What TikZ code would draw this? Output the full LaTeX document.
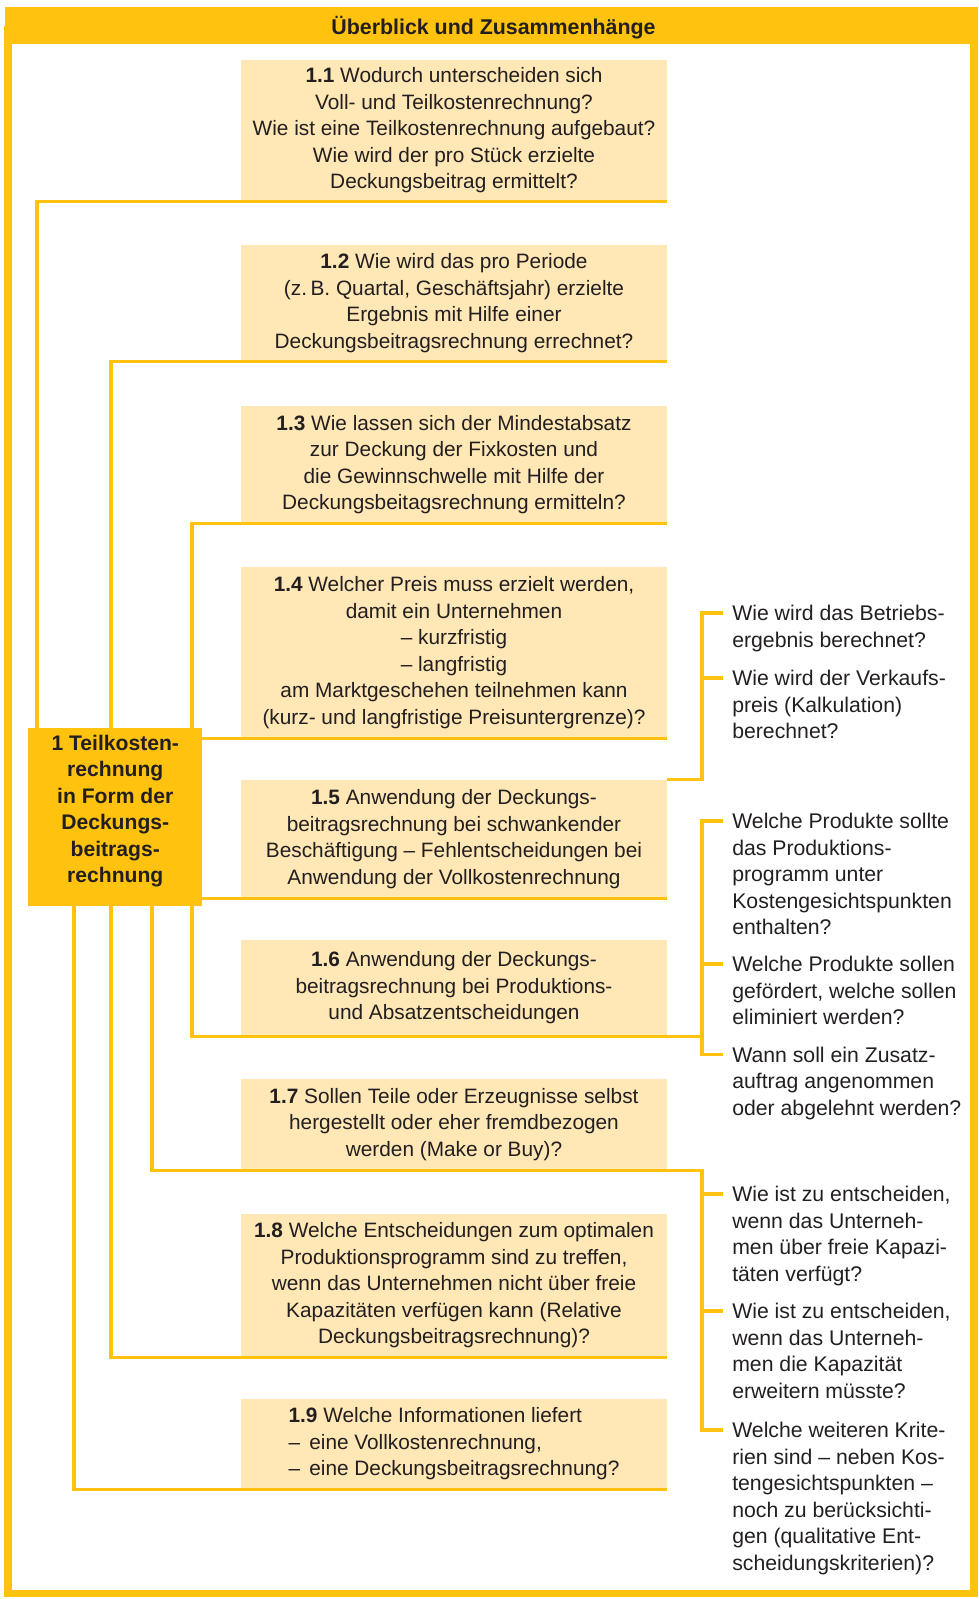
\documentclass[tikz,border=0pt]{standalone}
\usepackage{fontspec}
\setmainfont{Liberation Sans}
\usepackage{tikz}
\usetikzlibrary{calc}

\definecolor{gold}{RGB}{255,194,14}
\definecolor{boxfill}{RGB}{255,231,182}
\definecolor{ink}{RGB}{35,31,32}

\begin{document}
\begin{tikzpicture}[x=0.025cm,y=-0.025cm,
  link/.style={gold,line width=2.3pt},
  qbox/.style={fill=boxfill,minimum width=10.65cm,inner sep=0pt,align=center,text=ink,font=\fontsize{14.8}{18.85}\selectfont},
  side/.style={anchor=north west,inner sep=0pt,align=left,text=ink,font=\fontsize{15.1}{18.85}\selectfont}]
\useasboundingbox (0,0) rectangle (979,1599);
% frame and title bar
\draw[gold,line width=5pt] (8,30) rectangle (974,1593);
\fill[gold] (4.5,7) rectangle (977.5,44);
\node[text=ink,font=\fontsize{15.2}{18}\selectfont\bfseries] (title) at (493.5,28) {Überblick und Zusammenhänge};

% main topic
\node[fill=gold,minimum width=4.3375cm,minimum height=4.45cm,inner sep=0pt,align=center,text=ink,text depth=11.6pt,
  font=\fontsize{15}{18.85}\selectfont\bfseries] (main) at (115.25,817)
  {1 Teilkosten-\\rechnung\\in Form der\\Deckungs-\\beitrags-\\rechnung};

% questions
\node[qbox,minimum height=3.525cm] (b11) at (454,130.5) {\textbf{1.1} Wodurch unterscheiden sich\\Voll- und Teilkostenrechnung?\\Wie ist eine Teilkostenrechnung aufgebaut?\\Wie wird der pro Stück erzielte\\Deckungsbeitrag ermittelt?};
\node[qbox,minimum height=2.9cm] (b12) at (454,303) {\textbf{1.2} Wie wird das pro Periode\\(z.\,B. Quartal, Geschäftsjahr) erzielte\\Ergebnis mit Hilfe einer\\Deckungsbeitragsrechnung errechnet?};
\node[qbox,minimum height=2.925cm] (b13) at (454,464.5) {\textbf{1.3} Wie lassen sich der Mindestabsatz\\zur Deckung der Fixkosten und\\die Gewinnschwelle mit Hilfe der\\Deckungsbeitagsrechnung ermitteln?};
\node[qbox,minimum height=4.275cm] (b14) at (454,652.5) {\textbf{1.4} Welcher Preis muss erzielt werden,\\damit ein Unternehmen\\– kurzfristig\\– langfristig\\am Marktgeschehen teilnehmen kann\\(kurz- und langfristige Preisuntergrenze)?};
\node[qbox,minimum height=2.95cm] (b15) at (454,839) {\textbf{1.5} Anwendung der Deckungs-\\beitragsrechnung bei schwankender\\Beschäftigung – Fehlentscheidungen bei\\Anwendung der Vollkostenrechnung};
\node[qbox,minimum height=2.4cm] (b16) at (454,988) {\textbf{1.6} Anwendung der Deckungs-\\beitragsrechnung bei Produktions-\\und Absatzentscheidungen};
\node[qbox,minimum height=2.275cm] (b17) at (454,1124.5) {\textbf{1.7} Sollen Teile oder Erzeugnisse selbst\\hergestellt oder eher fremdbezogen\\werden (Make or Buy)?};
\node[qbox,minimum height=3.575cm] (b18) at (454,1285.5) {\textbf{1.8} Welche Entscheidungen zum optimalen\\Produktionsprogramm sind zu treffen,\\wenn das Unternehmen nicht über freie\\Kapazitäten verfügen kann (Relative\\Deckungsbeitragsrechnung)?};
\node[qbox,minimum height=2.25cm,align=left] (b19) at (454,1444) {\textbf{1.9} Welche Informationen liefert\\–\hspace{6.5pt}eine Vollkostenrechnung,\\–\hspace{6.5pt}eine Deckungsbeitragsrechnung?};

% side questions
\node[side] (ra1) at (732,605) {Wie wird das Betriebs-\\ergebnis berechnet?};
\node[side] (ra2) at (732,670) {Wie wird der Verkaufs-\\preis (Kalkulation)\\berechnet?};
\node[side] (rb1) at (732,813) {Welche Produkte sollte\\das Produktions-\\programm unter\\Kostengesichtspunkten\\enthalten?};
\node[side] (rb2) at (732,956) {Welche Produkte sollen\\gefördert, welche sollen\\eliminiert werden?};
\node[side] (rb3) at (732,1046.5) {Wann soll ein Zusatz-\\auftrag angenommen\\oder abgelehnt werden?};
\node[side] (rc1) at (732,1186) {Wie ist zu entscheiden,\\wenn das Unterneh-\\men über freie Kapazi-\\täten verfügt?};
\node[side] (rc2) at (732,1303) {Wie ist zu entscheiden,\\wenn das Unterneh-\\men die Kapazität\\erweitern müsste?};
\node[side] (rc3) at (732,1422) {Welche weiteren Krite-\\rien sind – neben Kos-\\tengesichtspunkten –\\noch zu berücksichti-\\gen (qualitative Ent-\\scheidungskriterien)?};

% links from the main topic
\draw[link] (37,0 |- main.north) |- (b11.south east);
\draw[link] (111,0 |- main.north) |- (b12.south east);
\draw[link] (192,0 |- main.north) |- (b13.south east);
\draw[link] (main.east |- b14.south) -- (b14.south east);
\draw[link] (main.east |- b15.south) -- (b15.south east);
\draw[link] (192,0 |- main.south) |- (b16.south east) -- ++(35,0);
\draw[link] (152,0 |- main.south) |- (b17.south east) -| ($(rc3.north west)+(-30,8)$) -- ($(rc3.north west)+(-9,8)$);
\draw[link] (111,0 |- main.south) |- (b18.south east);
\draw[link] (74,0 |- main.south) |- (b19.south east);

% brackets
\draw[link] (b15.north east) -| ($(ra1.north west)+(-30,8)$) -- ($(ra1.north west)+(-9,8)$);
\draw[link] ($(ra2.north west)+(-30,8)$) -- ($(ra2.north west)+(-9,8)$);
\draw[link] ($(rb1.north west)+(-9,8)$) -- ($(rb1.north west)+(-30,8)$) -- ($(rb3.north west)+(-30,8)$) -- ($(rb3.north west)+(-9,8)$);
\draw[link] ($(rb2.north west)+(-30,8)$) -- ($(rb2.north west)+(-9,8)$);
\draw[link] ($(rc1.north west)+(-30,8)$) -- ($(rc1.north west)+(-9,8)$);
\draw[link] ($(rc2.north west)+(-30,8)$) -- ($(rc2.north west)+(-9,8)$);
\end{tikzpicture}
\end{document}
